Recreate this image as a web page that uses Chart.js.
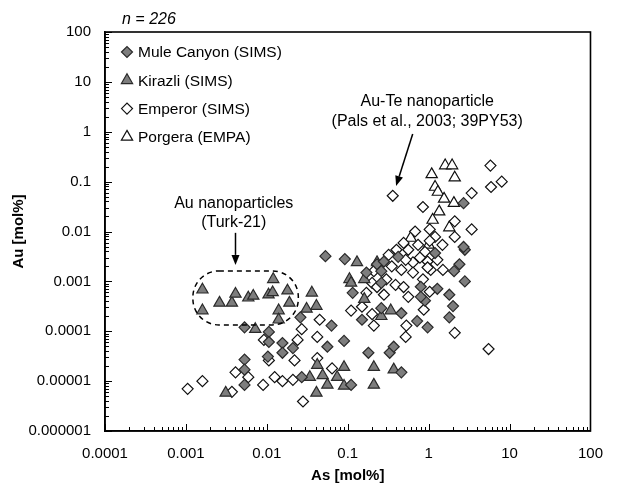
<!DOCTYPE html>
<html>
<head>
<meta charset="utf-8">
<script src="https://cdn.jsdelivr.net/npm/chart.js@4.4.0/dist/chart.umd.min.js"></script>
<style>
  html, body { margin: 0; padding: 0; background: #ffffff; }
  #wrap { width: 617px; height: 489px; }
</style>
</head>
<body>
<div id="wrap"><canvas id="c" width="617" height="489"></canvas></div>
<script>
// ---------------- data ----------------
const xTickValues = [0.0001, 0.001, 0.01, 0.1, 1, 10, 100];
const xTickLabels = ['0.0001', '0.001', '0.01', '0.1', '1', '10', '100'];
const yTickValues = [0.000001, 0.00001, 0.0001, 0.001, 0.01, 0.1, 1, 10, 100];
const yTickLabels = ['0.000001', '0.00001', '0.0001', '0.001', '0.01', '0.1', '1', '10', '100'];

const seriesNames = ['Mule Canyon (SIMS)', 'Kirazli (SIMS)', 'Emperor (SIMS)', 'Porgera (EMPA)'];

// Mule Canyon (SIMS)  [As mol%, Au mol%]
const muleCanyon = [
  [0.0053,0.00012],[0.0106,0.000097],[0.0106,0.000061],[0.0053,0.000027],[0.0053,0.000017],
  [0.0053,0.0000084],[0.0103,0.000031],[0.0156,0.000058],[0.0156,0.000037],[0.021,0.000046],
  [0.026,0.00019],[0.027,0.000012],[0.063,0.00013],[0.09,0.000064],[0.056,0.000049],
  [0.11,0.0000084],[0.053,0.0032],[0.092,0.0028],[0.15,0.00017],[0.17,0.0015],
  [0.23,0.0022],[0.26,0.0016],[0.115,0.00059],[0.18,0.000037],[0.33,0.000037],
  [0.37,0.000049],[0.46,0.000015],[0.26,0.00029],[0.46,0.00023],[0.72,0.00016],
  [0.97,0.00012],[0.8,0.00078],[0.9,0.00041],[1.28,0.00071],[1.8,0.00054],
  [2.0,0.00032],[1.8,0.00019],[2.8,0.0043],[2.4,0.0022],[2.06,0.0016],
  [2.8,0.001],[1.2,0.0037],[0.42,0.0031],[0.28,0.0025],[0.26,0.00093],
  [0.8,0.00049],[2.7,0.037],[2.7,0.0049]
];

// Kirazli (SIMS)
const kirazli = [
  [0.0016,0.00068],[0.0016,0.00026],[0.0026,0.00037],[0.0037,0.00037],[0.0041,0.00056],
  [0.0059,0.00047],[0.0068,0.00051],[0.012,0.0011],[0.0105,0.00054],[0.0118,0.0006],
  [0.018,0.00065],[0.019,0.00037],[0.014,0.00026],[0.014,0.00017],[0.0072,0.00011],
  [0.0031,0.0000058],[0.036,0.00059],[0.031,0.00028],[0.041,0.00032],[0.13,0.0024],
  [0.105,0.0011],[0.16,0.0011],[0.11,0.00093],[0.16,0.00044],[0.23,0.0024],
  [0.34,0.00026],[0.26,0.0002],[0.042,0.000021],[0.034,0.000012],[0.049,0.000013],
  [0.056,0.0000084],[0.09,0.000019],[0.074,0.000012],[0.09,0.000008],[0.041,0.0000058],
  [0.21,0.000019],[0.21,0.0000084],[0.37,0.000017]
];

// Emperor (SIMS)
const emperor = [
  [0.00105,0.000007],[0.0016,0.00001],[0.0041,0.000015],[0.0059,0.000012],[0.0037,0.0000061],
  [0.0092,0.000067],[0.0106,0.000026],[0.009,0.0000084],[0.0125,0.000012],[0.0156,0.00001],
  [0.021,0.0000106],[0.022,0.000026],[0.027,0.00011],[0.028,0.0000039],[0.045,0.00017],
  [0.042,0.000077],[0.024,0.000067],[0.042,0.000029],[0.064,0.000018],[0.11,0.00026],
  [0.2,0.00022],[0.21,0.00013],[0.52,0.000077],[0.53,0.00013],[0.87,0.00027],
  [2.1,0.000093],[5.5,0.000044],[0.36,0.052],[0.85,0.031],[0.68,0.01],
  [0.49,0.0059],[0.4,0.0043],[0.9,0.0039],[0.78,0.003],[0.64,0.0024],
  [0.52,0.0027],[0.46,0.0017],[0.35,0.002],[0.3,0.0011],[0.21,0.0016],
  [0.2,0.00093],[0.17,0.00059],[0.23,0.00077],[0.39,0.00085],[0.49,0.00077],
  [0.97,0.0025],[1.06,0.0017],[0.85,0.0011],[0.64,0.0015],[1.03,0.00062],
  [0.15,0.00031],[5.8,0.21],[5.9,0.078],[8.0,0.1],[3.4,0.059],
  [2.1,0.016],[3.4,0.011],[1.03,0.011],[1.2,0.0078],[2.1,0.0078],
  [1.48,0.0054],[1.03,0.0065],[0.97,0.0019],[0.32,0.0034],[0.56,0.0043],
  [0.74,0.0054],[0.28,0.00054],[0.56,0.00049],[1.28,0.0027],[1.5,0.0017]
];

// Porgera (EMPA)
const porgera = [
  [1.6,0.21],[1.95,0.21],[1.09,0.14],[2.1,0.12],[1.2,0.078],
  [1.3,0.062],[1.55,0.045],[2.05,0.037],[1.35,0.025],[1.12,0.017],
  [1.8,0.012],[0.6,0.0074],[1.0,0.0054]
];

// annotations (data coordinates)
const annoText1 = { x: 0.0039, lines: [['Au nanoparticles', 0.037], ['(Turk-21)', 0.015]] };
const annoArrow1 = { from: [0.0041, 0.0094], to: [0.0041, 0.00214] };
const annoLoop = { x0: 0.00122, x1: 0.0245, y0: 0.00162, y1: 0.000134 };
const annoText2 = { x: 0.96, lines: [['Au-Te nanoparticle', 3.95], ['(Pals et al., 2003; 39PY53)', 1.57]] };
const annoArrow2 = { from: [0.635, 0.904], to: [0.396, 0.082] };

// ---------------- chart ----------------
const FONT = "'Liberation Sans', Arial, Helvetica, sans-serif";
const toPts = arr => arr.map(p => ({ x: p[0], y: p[1] }));

const styles = [
  { pointStyle: 'rectRot', radius: 5.5, bg: '#7d7d7d', border: '#2a2a2a' },
  { pointStyle: 'triangle', radius: 6.5, bg: '#7d7d7d', border: '#2a2a2a' },
  { pointStyle: 'rectRot', radius: 5.5, bg: '#ffffff', border: '#111111' },
  { pointStyle: 'triangle', radius: 6.5, bg: '#ffffff', border: '#111111' }
];
const seriesData = [muleCanyon, kirazli, emperor, porgera];

const datasets = seriesData.map((d, i) => ({
  label: seriesNames[i],
  data: toPts(d),
  pointStyle: styles[i].pointStyle,
  pointRadius: styles[i].radius,
  pointBackgroundColor: styles[i].bg,
  pointBorderColor: styles[i].border,
  pointBorderWidth: 1.2,
  showLine: false
}));

function drawMarker(ctx, style, x, y) {
  ctx.save();
  ctx.fillStyle = style.bg;
  ctx.strokeStyle = style.border;
  ctx.lineWidth = 1.2;
  ctx.beginPath();
  const r = style.radius;
  if (style.pointStyle === 'rectRot') {
    ctx.moveTo(x - r, y); ctx.lineTo(x, y - r); ctx.lineTo(x + r, y); ctx.lineTo(x, y + r);
  } else {
    const a = 2 * Math.PI / 3;
    ctx.moveTo(x, y - r);
    ctx.lineTo(x + Math.sin(a) * r, y - Math.cos(a) * r);
    ctx.lineTo(x + Math.sin(2 * a) * r, y - Math.cos(2 * a) * r);
  }
  ctx.closePath();
  ctx.fill(); ctx.stroke();
  ctx.restore();
}

function arrow(ctx, x0, y0, x1, y1) {
  ctx.save();
  ctx.strokeStyle = '#000'; ctx.fillStyle = '#000'; ctx.lineWidth = 1.5;
  const ang = Math.atan2(y1 - y0, x1 - x0);
  const hl = 10, hw = 4;
  const bx = x1 - Math.cos(ang) * hl, by = y1 - Math.sin(ang) * hl;
  ctx.beginPath(); ctx.moveTo(x0, y0); ctx.lineTo(bx, by); ctx.stroke();
  ctx.beginPath();
  ctx.moveTo(x1, y1);
  ctx.lineTo(bx + Math.sin(ang) * hw, by - Math.cos(ang) * hw);
  ctx.lineTo(bx - Math.sin(ang) * hw, by + Math.cos(ang) * hw);
  ctx.closePath(); ctx.fill();
  ctx.restore();
}

const decorPlugin = {
  id: 'decor',
  afterDraw(chart) {
    const { ctx, chartArea: ca, scales } = chart;
    const xs = scales.x, ys = scales.y;
    const X = v => xs.getPixelForValue(v), Y = v => ys.getPixelForValue(v);
    ctx.save();
    // frame
    ctx.strokeStyle = '#000'; ctx.lineWidth = 1.6;
    ctx.strokeRect(ca.left, ca.top, ca.right - ca.left, ca.bottom - ca.top);
    // inner ticks
    ctx.lineWidth = 1;
    ctx.beginPath();
    for (let k = -4; k <= 2; k++) {
      for (let m = 1; m <= 9; m++) {
        const v = m * Math.pow(10, k);
        if (v > 100.0001) break;
        const px = Math.round(X(v)) + 0.5;
        const len = m === 1 ? 7 : 4;
        ctx.moveTo(px, ca.bottom); ctx.lineTo(px, ca.bottom - len);
      }
    }
    for (let k = -6; k <= 2; k++) {
      for (let m = 1; m <= 9; m++) {
        const v = m * Math.pow(10, k);
        if (v > 100.0001) break;
        const py = Math.round(Y(v)) + 0.5;
        const len = m === 1 ? 7 : 4;
        ctx.moveTo(ca.left, py); ctx.lineTo(ca.left + len, py);
      }
    }
    ctx.stroke();

    // title n = 226
    ctx.fillStyle = '#000';
    ctx.font = 'italic 16px ' + FONT;
    ctx.textBaseline = 'middle'; ctx.textAlign = 'left';
    ctx.fillText('n = 226', ca.left + 17, 20);

    // legend
    ctx.font = '15.5px ' + FONT;
    for (let i = 0; i < 4; i++) {
      const ly = ca.top + 20 + i * 28.3;
      drawMarker(ctx, styles[i], ca.left + 22, ly);
      ctx.fillStyle = '#000';
      ctx.fillText(seriesNames[i], ca.left + 33, ly + 1);
    }

    // annotations
    ctx.font = '16px ' + FONT;
    ctx.textAlign = 'center';
    annoText1.lines.forEach(l => ctx.fillText(l[0], X(annoText1.x), Y(l[1])));
    annoText2.lines.forEach(l => ctx.fillText(l[0], X(annoText2.x), Y(l[1])));
    arrow(ctx, X(annoArrow1.from[0]), Y(annoArrow1.from[1]), X(annoArrow1.to[0]), Y(annoArrow1.to[1]));
    arrow(ctx, X(annoArrow2.from[0]), Y(annoArrow2.from[1]), X(annoArrow2.to[0]), Y(annoArrow2.to[1]));

    // dashed loop
    const lx0 = X(annoLoop.x0), lx1 = X(annoLoop.x1), ly0 = Y(annoLoop.y0), ly1 = Y(annoLoop.y1);
    ctx.setLineDash([5, 4]);
    ctx.lineWidth = 1.5;
    ctx.strokeStyle = '#000';
    ctx.beginPath();
    if (ctx.roundRect) ctx.roundRect(lx0, ly0, lx1 - lx0, ly1 - ly0, 26);
    else ctx.rect(lx0, ly0, lx1 - lx0, ly1 - ly0);
    ctx.stroke();
    ctx.restore();
  }
};

new Chart(document.getElementById('c'), {
  type: 'scatter',
  data: { datasets },
  plugins: [decorPlugin],
  options: {
    responsive: false,
    animation: false,
    devicePixelRatio: 1,
    events: [],
    layout: { padding: { left: 0, right: 15, top: 32, bottom: 0 } },
    plugins: { legend: { display: false }, tooltip: { enabled: false }, title: { display: false } },
    scales: {
      x: {
        type: 'logarithmic', position: 'bottom', min: 0.0001, max: 100,
        afterBuildTicks: s => { s.ticks = xTickValues.map(v => ({ value: v })); },
        afterFit: s => { s.height = 58; },
        grid: { display: false, drawTicks: false },
        border: { display: true, color: '#000', width: 1.6 },
        ticks: {
          autoSkip: false, maxRotation: 0, padding: 14, color: '#000',
          font: { family: FONT, size: 15 },
          callback: (v, i) => xTickLabels[i]
        },
        title: { display: true, text: 'As [mol%]', color: '#000', font: { family: FONT, size: 15, weight: 'bold' }, padding: { top: 0, bottom: 4 } }
      },
      y: {
        type: 'logarithmic', position: 'left', min: 0.000001, max: 100,
        afterBuildTicks: s => { s.ticks = yTickValues.map(v => ({ value: v })); },
        afterFit: s => { s.width = 105; },
        grid: { display: false, drawTicks: false },
        border: { display: true, color: '#000', width: 1.6 },
        ticks: {
          autoSkip: false, padding: 14, color: '#000',
          font: { family: FONT, size: 15 },
          callback: (v, i) => yTickLabels[i]
        },
        title: { display: true, text: 'Au [mol%]', color: '#000', font: { family: FONT, size: 15, weight: 'bold' }, padding: { top: 10, bottom: 0 } }
      }
    }
  }
});
</script>
</body>
</html>
